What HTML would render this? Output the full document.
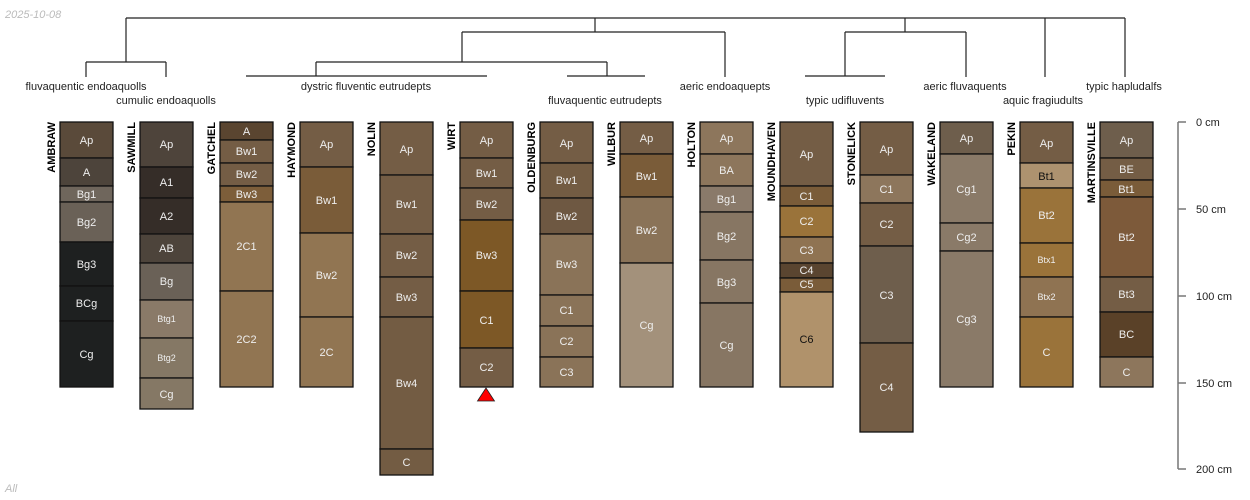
<!DOCTYPE html>
<html><head><meta charset="utf-8"><style>
html,body{margin:0;padding:0;background:#fff;}
svg{display:block;font-family:"Liberation Sans",sans-serif;}
.h{font-size:11px;fill:#eee;text-anchor:middle;}
.d{fill:#111;}
.s{font-size:9px;}
.n{font-size:11px;font-weight:bold;fill:#000;text-anchor:end;}
.t{font-size:11px;fill:#222;text-anchor:middle;}
rect{stroke:#111;stroke-width:1.3;}
.dn line{stroke:#222;stroke-width:1.2;}
.dg line{stroke:#777;stroke-width:1.5;}
</style></head><body>
<svg width="1250" height="500" viewBox="0 0 1250 500" xmlns="http://www.w3.org/2000/svg">
<text x="5" y="18" font-size="11" font-style="italic" fill="#bbb">2025-10-08</text>
<text x="5" y="492" font-size="11" font-style="italic" fill="#bbb">All</text>

<g class="dn">
<line x1="126" y1="18" x2="1125" y2="18"/>
<line x1="126" y1="18" x2="126" y2="62"/>
<line x1="86" y1="62" x2="166" y2="62"/>
<line x1="86" y1="62" x2="86" y2="77"/>
<line x1="166" y1="62" x2="166" y2="77"/>
<line x1="595" y1="18" x2="595" y2="32"/>
<line x1="462" y1="32" x2="725" y2="32"/>
<line x1="462" y1="32" x2="462" y2="62"/>
<line x1="725" y1="32" x2="725" y2="77"/>
<line x1="316" y1="62" x2="607" y2="62"/>
<line x1="316" y1="62" x2="316" y2="76"/>
<line x1="607" y1="62" x2="607" y2="76"/>
<line x1="246" y1="76" x2="487" y2="76"/>
<line x1="567" y1="76" x2="645" y2="76"/>
<line x1="905" y1="18" x2="905" y2="32"/>
<line x1="845" y1="32" x2="966" y2="32"/>
<line x1="845" y1="32" x2="845" y2="76"/>
<line x1="966" y1="32" x2="966" y2="77"/>
<line x1="805" y1="76" x2="885" y2="76"/>
<line x1="1045" y1="18" x2="1045" y2="77"/>
<line x1="1125" y1="18" x2="1125" y2="77"/>
</g>

<text class="t" x="86" y="90">fluvaquentic endoaquolls</text>
<text class="t" x="166" y="104">cumulic endoaquolls</text>
<text class="t" x="366" y="90">dystric fluventic eutrudepts</text>
<text class="t" x="605" y="104">fluvaquentic eutrudepts</text>
<text class="t" x="725" y="90">aeric endoaquepts</text>
<text class="t" x="845" y="104">typic udifluvents</text>
<text class="t" x="965" y="90">aeric fluvaquents</text>
<text class="t" x="1043" y="104">aquic fragiudults</text>
<text class="t" x="1124" y="90">typic hapludalfs</text>

<!-- AMBRAW -->
<text class="n" transform="translate(55,122) rotate(-90)">AMBRAW</text>
<rect x="60" y="122" width="53" height="36" fill="#5a4a3a"/><text class="h" x="86.5" y="144">Ap</text>
<rect x="60" y="158" width="53" height="28" fill="#4d443b"/><text class="h" x="86.5" y="176">A</text>
<rect x="60" y="186" width="53" height="16" fill="#6f665c"/><text class="h" x="86.5" y="198">Bg1</text>
<rect x="60" y="202" width="53" height="40" fill="#6a6157"/><text class="h" x="86.5" y="226">Bg2</text>
<rect x="60" y="242" width="53" height="44" fill="#1e2020"/><text class="h" x="86.5" y="268">Bg3</text>
<rect x="60" y="286" width="53" height="35" fill="#1e2020"/><text class="h" x="86.5" y="307">BCg</text>
<rect x="60" y="321" width="53" height="66" fill="#1e2020"/><text class="h" x="86.5" y="358">Cg</text>

<!-- SAWMILL -->
<text class="n" transform="translate(135,122) rotate(-90)">SAWMILL</text>
<rect x="140" y="122" width="53" height="45" fill="#4e443b"/><text class="h" x="166.5" y="148">Ap</text>
<rect x="140" y="167" width="53" height="31" fill="#352d28"/><text class="h" x="166.5" y="186">A1</text>
<rect x="140" y="198" width="53" height="36" fill="#352d28"/><text class="h" x="166.5" y="220">A2</text>
<rect x="140" y="234" width="53" height="29" fill="#4d443b"/><text class="h" x="166.5" y="252">AB</text>
<rect x="140" y="263" width="53" height="37" fill="#6a6157"/><text class="h" x="166.5" y="285">Bg</text>
<rect x="140" y="300" width="53" height="38" fill="#8a7a68"/><text class="h s" x="166.5" y="322">Btg1</text>
<rect x="140" y="338" width="53" height="40" fill="#857865"/><text class="h s" x="166.5" y="361">Btg2</text>
<rect x="140" y="378" width="53" height="31" fill="#857865"/><text class="h" x="166.5" y="398">Cg</text>

<!-- GATCHEL -->
<text class="n" transform="translate(215,122) rotate(-90)">GATCHEL</text>
<rect x="220" y="122" width="53" height="18" fill="#5a4530"/><text class="h" x="246.5" y="135">A</text>
<rect x="220" y="140" width="53" height="23" fill="#745d45"/><text class="h" x="246.5" y="155">Bw1</text>
<rect x="220" y="163" width="53" height="23" fill="#745d45"/><text class="h" x="246.5" y="178">Bw2</text>
<rect x="220" y="186" width="53" height="16" fill="#7d5e3a"/><text class="h" x="246.5" y="198">Bw3</text>
<rect x="220" y="202" width="53" height="89" fill="#917552"/><text class="h" x="246.5" y="250">2C1</text>
<rect x="220" y="291" width="53" height="96" fill="#917552"/><text class="h" x="246.5" y="343">2C2</text>

<!-- HAYMOND -->
<text class="n" transform="translate(295,122) rotate(-90)">HAYMOND</text>
<rect x="300" y="122" width="53" height="45" fill="#745d45"/><text class="h" x="326.5" y="148">Ap</text>
<rect x="300" y="167" width="53" height="66" fill="#7a5c39"/><text class="h" x="326.5" y="204">Bw1</text>
<rect x="300" y="233" width="53" height="84" fill="#917552"/><text class="h" x="326.5" y="279">Bw2</text>
<rect x="300" y="317" width="53" height="70" fill="#917552"/><text class="h" x="326.5" y="356">2C</text>

<!-- NOLIN -->
<text class="n" transform="translate(375,122) rotate(-90)">NOLIN</text>
<rect x="380" y="122" width="53" height="53" fill="#745d45"/><text class="h" x="406.5" y="153">Ap</text>
<rect x="380" y="175" width="53" height="59" fill="#745d45"/><text class="h" x="406.5" y="208">Bw1</text>
<rect x="380" y="234" width="53" height="43" fill="#745d45"/><text class="h" x="406.5" y="259">Bw2</text>
<rect x="380" y="277" width="53" height="40" fill="#745d45"/><text class="h" x="406.5" y="301">Bw3</text>
<rect x="380" y="317" width="53" height="132" fill="#735c43"/><text class="h" x="406.5" y="387">Bw4</text>
<rect x="380" y="449" width="53" height="26" fill="#735c43"/><text class="h" x="406.5" y="466">C</text>

<!-- WIRT -->
<text class="n" transform="translate(455,122) rotate(-90)">WIRT</text>
<rect x="460" y="122" width="53" height="36" fill="#745d45"/><text class="h" x="486.5" y="144">Ap</text>
<rect x="460" y="158" width="53" height="30" fill="#745d45"/><text class="h" x="486.5" y="177">Bw1</text>
<rect x="460" y="188" width="53" height="32" fill="#745d45"/><text class="h" x="486.5" y="208">Bw2</text>
<rect x="460" y="220" width="53" height="71" fill="#7d5826"/><text class="h" x="486.5" y="259">Bw3</text>
<rect x="460" y="291" width="53" height="57" fill="#7d5826"/><text class="h" x="486.5" y="324">C1</text>
<rect x="460" y="348" width="53" height="39" fill="#745d45"/><text class="h" x="486.5" y="371">C2</text>
<polygon points="477.5,401 494.5,401 486,388" fill="#ff0000" stroke="#222" stroke-width="0.8"/>

<!-- OLDENBURG -->
<text class="n" transform="translate(535,122) rotate(-90)">OLDENBURG</text>
<rect x="540" y="122" width="53" height="41" fill="#745d45"/><text class="h" x="566.5" y="147">Ap</text>
<rect x="540" y="163" width="53" height="35" fill="#735c43"/><text class="h" x="566.5" y="184">Bw1</text>
<rect x="540" y="198" width="53" height="36" fill="#6e5842"/><text class="h" x="566.5" y="220">Bw2</text>
<rect x="540" y="234" width="53" height="61" fill="#8a7358"/><text class="h" x="566.5" y="268">Bw3</text>
<rect x="540" y="295" width="53" height="31" fill="#8a7358"/><text class="h" x="566.5" y="314">C1</text>
<rect x="540" y="326" width="53" height="31" fill="#8a7358"/><text class="h" x="566.5" y="345">C2</text>
<rect x="540" y="357" width="53" height="30" fill="#8a7358"/><text class="h" x="566.5" y="376">C3</text>

<!-- WILBUR -->
<text class="n" transform="translate(615,122) rotate(-90)">WILBUR</text>
<rect x="620" y="122" width="53" height="32" fill="#745d45"/><text class="h" x="646.5" y="142">Ap</text>
<rect x="620" y="154" width="53" height="43" fill="#7a5c39"/><text class="h" x="646.5" y="180">Bw1</text>
<rect x="620" y="197" width="53" height="66" fill="#8a7358"/><text class="h" x="646.5" y="234">Bw2</text>
<rect x="620" y="263" width="53" height="124" fill="#a3917b"/><text class="h" x="646.5" y="329">Cg</text>

<!-- HOLTON -->
<text class="n" transform="translate(695,122) rotate(-90)">HOLTON</text>
<rect x="700" y="122" width="53" height="32" fill="#8d765c"/><text class="h" x="726.5" y="142">Ap</text>
<rect x="700" y="154" width="53" height="32" fill="#8d765c"/><text class="h" x="726.5" y="174">BA</text>
<rect x="700" y="186" width="53" height="26" fill="#8a7a6a"/><text class="h" x="726.5" y="203">Bg1</text>
<rect x="700" y="212" width="53" height="48" fill="#877663"/><text class="h" x="726.5" y="240">Bg2</text>
<rect x="700" y="260" width="53" height="43" fill="#877663"/><text class="h" x="726.5" y="286">Bg3</text>
<rect x="700" y="303" width="53" height="84" fill="#877663"/><text class="h" x="726.5" y="349">Cg</text>

<!-- MOUNDHAVEN -->
<text class="n" transform="translate(775,122) rotate(-90)">MOUNDHAVEN</text>
<rect x="780" y="122" width="53" height="64" fill="#745d45"/><text class="h" x="806.5" y="158">Ap</text>
<rect x="780" y="186" width="53" height="20" fill="#7a5c39"/><text class="h" x="806.5" y="200">C1</text>
<rect x="780" y="206" width="53" height="31" fill="#9a733a"/><text class="h" x="806.5" y="225">C2</text>
<rect x="780" y="237" width="53" height="26" fill="#8f7352"/><text class="h" x="806.5" y="254">C3</text>
<rect x="780" y="263" width="53" height="15" fill="#5a4530"/><text class="h" x="806.5" y="274">C4</text>
<rect x="780" y="278" width="53" height="14" fill="#7a5c39"/><text class="h" x="806.5" y="288">C5</text>
<rect x="780" y="292" width="53" height="95" fill="#b0926b"/><text class="h d" x="806.5" y="343">C6</text>

<!-- STONELICK -->
<text class="n" transform="translate(855,122) rotate(-90)">STONELICK</text>
<rect x="860" y="122" width="53" height="53" fill="#745d45"/><text class="h" x="886.5" y="153">Ap</text>
<rect x="860" y="175" width="53" height="28" fill="#8d765c"/><text class="h" x="886.5" y="193">C1</text>
<rect x="860" y="203" width="53" height="43" fill="#745d45"/><text class="h" x="886.5" y="228">C2</text>
<rect x="860" y="246" width="53" height="97" fill="#6e5e4c"/><text class="h" x="886.5" y="299">C3</text>
<rect x="860" y="343" width="53" height="89" fill="#745d45"/><text class="h" x="886.5" y="391">C4</text>

<!-- WAKELAND -->
<text class="n" transform="translate(935,122) rotate(-90)">WAKELAND</text>
<rect x="940" y="122" width="53" height="32" fill="#6e5e4c"/><text class="h" x="966.5" y="142">Ap</text>
<rect x="940" y="154" width="53" height="69" fill="#8a7a68"/><text class="h" x="966.5" y="193">Cg1</text>
<rect x="940" y="223" width="53" height="28" fill="#8a7a68"/><text class="h" x="966.5" y="241">Cg2</text>
<rect x="940" y="251" width="53" height="136" fill="#8a7a68"/><text class="h" x="966.5" y="323">Cg3</text>

<!-- PEKIN -->
<text class="n" transform="translate(1015,122) rotate(-90)">PEKIN</text>
<rect x="1020" y="122" width="53" height="41" fill="#745d45"/><text class="h" x="1046.5" y="147">Ap</text>
<rect x="1020" y="163" width="53" height="25" fill="#ad926f"/><text class="h d" x="1046.5" y="180">Bt1</text>
<rect x="1020" y="188" width="53" height="55" fill="#9a733a"/><text class="h" x="1046.5" y="219">Bt2</text>
<rect x="1020" y="243" width="53" height="34" fill="#9a733a"/><text class="h s" x="1046.5" y="263">Btx1</text>
<rect x="1020" y="277" width="53" height="40" fill="#8f7352"/><text class="h s" x="1046.5" y="300">Btx2</text>
<rect x="1020" y="317" width="53" height="70" fill="#9a733a"/><text class="h" x="1046.5" y="356">C</text>

<!-- MARTINSVILLE -->
<text class="n" transform="translate(1095,122) rotate(-90)">MARTINSVILLE</text>
<rect x="1100" y="122" width="53" height="36" fill="#6e5e4c"/><text class="h" x="1126.5" y="144">Ap</text>
<rect x="1100" y="158" width="53" height="22" fill="#745d45"/><text class="h" x="1126.5" y="173">BE</text>
<rect x="1100" y="180" width="53" height="17" fill="#7a5c39"/><text class="h" x="1126.5" y="193">Bt1</text>
<rect x="1100" y="197" width="53" height="80" fill="#7d5a3a"/><text class="h" x="1126.5" y="241">Bt2</text>
<rect x="1100" y="277" width="53" height="35" fill="#745d45"/><text class="h" x="1126.5" y="298">Bt3</text>
<rect x="1100" y="312" width="53" height="45" fill="#5a4128"/><text class="h" x="1126.5" y="338">BC</text>
<rect x="1100" y="357" width="53" height="30" fill="#8d765c"/><text class="h" x="1126.5" y="376">C</text>

<!-- depth axis -->
<g class="dg">
<line x1="1178" y1="122" x2="1178" y2="469"/>
<line x1="1178" y1="122" x2="1186" y2="122"/>
<line x1="1178" y1="209" x2="1186" y2="209"/>
<line x1="1178" y1="296" x2="1186" y2="296"/>
<line x1="1178" y1="383" x2="1186" y2="383"/>
<line x1="1178" y1="469" x2="1186" y2="469"/>
</g>
<g font-size="11" fill="#222">
<text x="1196" y="126">0 cm</text>
<text x="1196" y="213">50 cm</text>
<text x="1196" y="300">100 cm</text>
<text x="1196" y="387">150 cm</text>
<text x="1196" y="473">200 cm</text>
</g>
</svg>
</body></html>
